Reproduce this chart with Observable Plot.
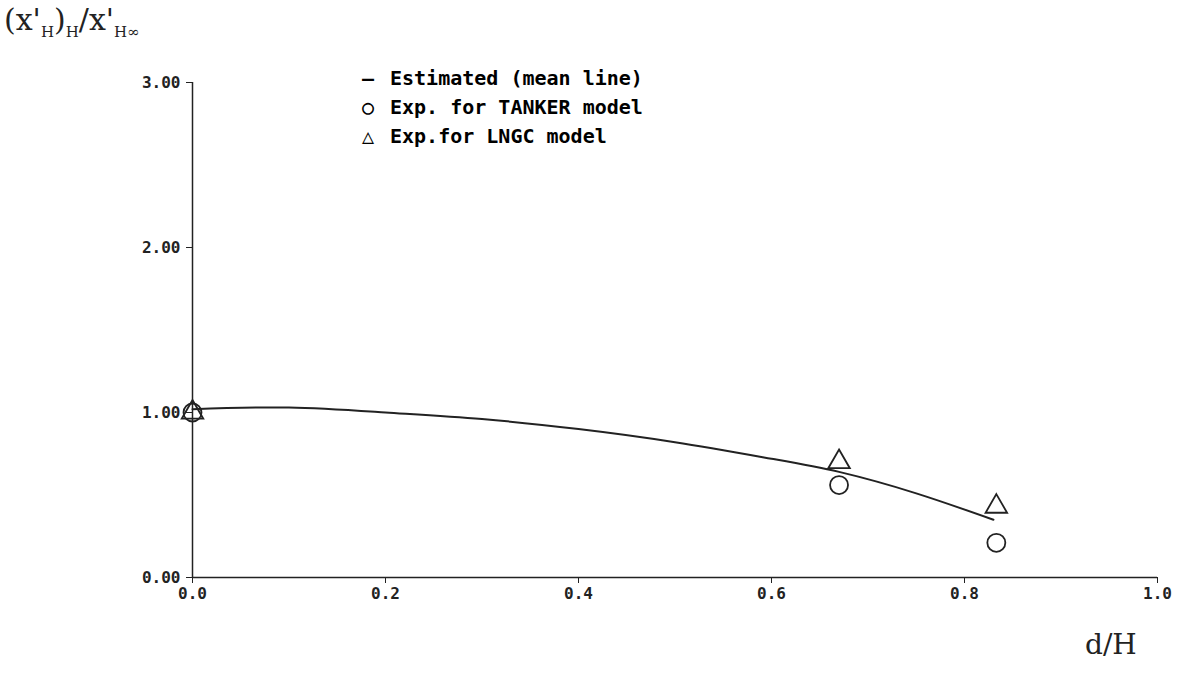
<!DOCTYPE html>
<html>
<head>
<meta charset="utf-8">
<script src="https://cdn.jsdelivr.net/npm/d3@7"></script>
<script src="https://cdn.jsdelivr.net/npm/@observablehq/plot@0.6"></script>
<style>
  body { margin: 0; background: #fff; }
  #wrap { position: relative; width: 1177px; height: 676px; font-family: "DejaVu Sans Mono", monospace; font-weight: bold; }
  .lbl { position: absolute; color: #222; }
  #legend { position: absolute; left: 362px; top: 64px; font-size: 20px; line-height: 29px; }
  #legend span.sym { display: inline-block; width: 28px; }
</style>
</head>
<body>
<div id="wrap">
  <div class="lbl" style="left:4px; top:2px; font-size:30px; font-family:'DejaVu Serif',serif; font-weight:normal;">(x'<sub style="font-size:15px">H</sub>)<sub style="font-size:15px">H</sub>/x'<sub style="font-size:15px">H∞</sub></div>
  <div class="lbl" style="left:1085px; top:628px; font-size:28px; font-family:'DejaVu Serif',serif; font-weight:normal;">d/H</div>
  <div id="legend">
    <div><span class="sym">—</span>Estimated (mean line)</div>
    <div><span class="sym">○</span>Exp. for TANKER model</div>
    <div><span class="sym">△</span>Exp.for LNGC model</div>
  </div>
  <div id="chart"></div>
</div>
<script>
// mean line
const lineX = [0.0, 0.1, 0.2, 0.3, 0.4, 0.5, 0.6, 0.67, 0.75, 0.83];
const lineY = [1.02, 1.03, 1.00, 0.96, 0.90, 0.82, 0.72, 0.64, 0.51, 0.35];
// experiments
const tankerX = [0.0, 0.67, 0.833];
const tankerY = [1.00, 0.56, 0.21];
const lngcX = [0.0, 0.67, 0.833];
const lngcY = [1.00, 0.70, 0.43];

const line = lineX.map((x, i) => ({x, y: lineY[i]}));
const tanker = tankerX.map((x, i) => ({x, y: tankerY[i]}));
const lngc = lngcX.map((x, i) => ({x, y: lngcY[i]}));

const p = Plot.plot({
  width: 1177,
  height: 676,
  marginLeft: 192,
  marginRight: 20,
  marginTop: 82,
  marginBottom: 99,
  style: {fontFamily: "DejaVu Sans Mono, monospace", fontSize: "16px", fontWeight: "bold", color: "#222"},
  x: {domain: [0, 1], ticks: d3.range(0, 1.01, 0.2), tickFormat: d => d.toFixed(1), label: null, tickSize: 6, tickPadding: 4},
  y: {domain: [0, 3], ticks: [0, 1, 2, 3], tickFormat: d => d.toFixed(2), label: null, tickSize: 6, tickPadding: 6},
  marks: [
    Plot.ruleX([0], {stroke: "#222", strokeWidth: 1.5}),
    Plot.ruleY([0], {stroke: "#222", strokeWidth: 1.5}),
    Plot.line(line, {x: "x", y: "y", curve: "natural", stroke: "#222", strokeWidth: 2}),
    Plot.dot(tanker, {x: "x", y: "y", r: 9, stroke: "#222", strokeWidth: 1.8}),
    Plot.dot(lngc, {x: "x", y: "y", symbol: "triangle", r: 8, stroke: "#222", strokeWidth: 1.8})
  ]
});
document.querySelector("#chart").append(p);
</script>
</body>
</html>
